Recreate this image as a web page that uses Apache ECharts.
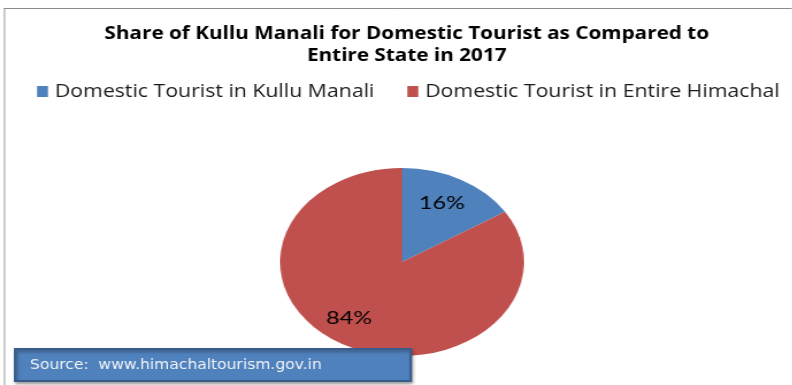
<!DOCTYPE html>
<html>
<head>
<meta charset="utf-8">
<script src="https://cdn.jsdelivr.net/npm/echarts@6/dist/echarts.min.js"></script>
<style>
  html, body { margin: 0; padding: 0; background: #fff; }
  #wrap { position: relative; width: 792px; height: 385px; overflow: hidden; }
  /* pie layer: circle stretched into an ellipse */
  #pie { position: absolute; left: 302px; top: 162px; width: 200px; height: 200px;
         transform: scaleX(1.298); transform-origin: 100px 100px; }
  /* text layer: rendered narrower, then widened; the extra width is clipped by #wrap */
  #main { position: absolute; left: 0; top: 0; width: 760px; height: 385px; pointer-events: none;
          transform: scaleX(1.15); transform-origin: 0 0; }
</style>
</head>
<body>
<div id="wrap">
  <div id="pie"></div>
  <div id="main"></div>
</div>
<script>
// Domestic tourist share, 2017
const categories = ['Domestic Tourist in Kullu Manali', 'Domestic Tourist in Entire Himachal'];
const shares = [16, 84];
const sliceColors = ['#4F81BD', '#C0504D'];
const titleLines = ['Share of Kullu Manali for Domestic Tourist as Compared to', 'Entire State in 2017'];
const sourceText = 'Source:  www.himachaltourism.gov.in';

const pieData = categories.map((name, i) => ({ name, value: shares[i] }));
const TEXT_FONT = '"Open Sans", Lato, sans-serif';

// Pie layer
const pieChart = echarts.init(document.getElementById('pie'), null, { renderer: 'canvas' });
pieChart.setOption({
  animation: false,
  color: sliceColors,
  series: [
    {
      type: 'pie',
      center: ['50%', '50%'],
      radius: [0, 94],
      startAngle: 90,
      clockwise: true,
      silent: true,
      label: { show: false },
      labelLine: { show: false },
      itemStyle: { borderWidth: 0 },
      data: pieData
    },
    {
      // transparent ring that carries the percentage labels at ~69% of the radius
      type: 'pie',
      center: ['50%', '50%'],
      radius: [36, 94],
      startAngle: 90,
      clockwise: true,
      silent: true,
      itemStyle: { color: 'rgba(0,0,0,0)', borderWidth: 0 },
      label: {
        show: true,
        position: 'inside',
        formatter: '{c}%',
        color: '#000',
        fontSize: 18,
        fontFamily: 'Lato, sans-serif'
      },
      labelLayout: params => (params.dataIndex === 1 ? { dx: -8, dy: -3 } : { dx: -2, dy: 1 }),
      labelLine: { show: false },
      data: pieData
    }
  ]
});

// Title, legend, frame and source box
const mainChart = echarts.init(document.getElementById('main'), null, { renderer: 'canvas' });
mainChart.setOption({
  animation: false,
  color: sliceColors,
  title: {
    text: titleLines.join('\n'),
    left: 348.7,
    top: 18,
    textAlign: 'center',
    textStyle: {
      fontFamily: TEXT_FONT,
      fontWeight: 'bold',
      fontSize: 18,
      lineHeight: 22,
      color: '#000'
    }
  },
  legend: {
    data: categories,
    left: 32.2,
    top: 82,
    padding: 0,
    icon: 'rect',
    itemWidth: 9.5,
    itemHeight: 11,
    itemGap: 28.7,
    textStyle: { fontFamily: TEXT_FONT, fontSize: 18.5, color: '#1a1a1a', padding: [0, 0, 0, 1] }
  },
  series: [{
    // drives the legend entries; the slices themselves are drawn in the pie layer
    type: 'pie',
    radius: [0, 0],
    center: [-100, -100],
    label: { show: false },
    silent: true,
    data: pieData
  }],
  graphic: [
    { type: 'line', shape: { x1: 3.5, y1: 8.5, x2: 688.7, y2: 8.5 }, style: { stroke: '#8c8c8c', lineWidth: 1 } },
    { type: 'line', shape: { x1: 3.9, y1: 8, x2: 3.9, y2: 385 }, style: { stroke: '#8c8c8c', lineWidth: 0.9 } },
    {
      type: 'rect',
      shape: { x: 13.04, y: 349, width: 344.3, height: 32 },
      style: {
        fill: '#4F81BD', stroke: '#385D8A', lineWidth: 2,
        shadowBlur: 3, shadowOffsetX: 1, shadowOffsetY: 2, shadowColor: 'rgba(0,0,0,0.35)'
      }
    },
    {
      type: 'text',
      x: 26.1, y: 365,
      style: {
        text: sourceText,
        fill: '#f2f4f8',
        fontFamily: '"DejaVu Sans", sans-serif',
        fontSize: 13.5,
        verticalAlign: 'middle'
      }
    }
  ]
});
</script>
</body>
</html>
